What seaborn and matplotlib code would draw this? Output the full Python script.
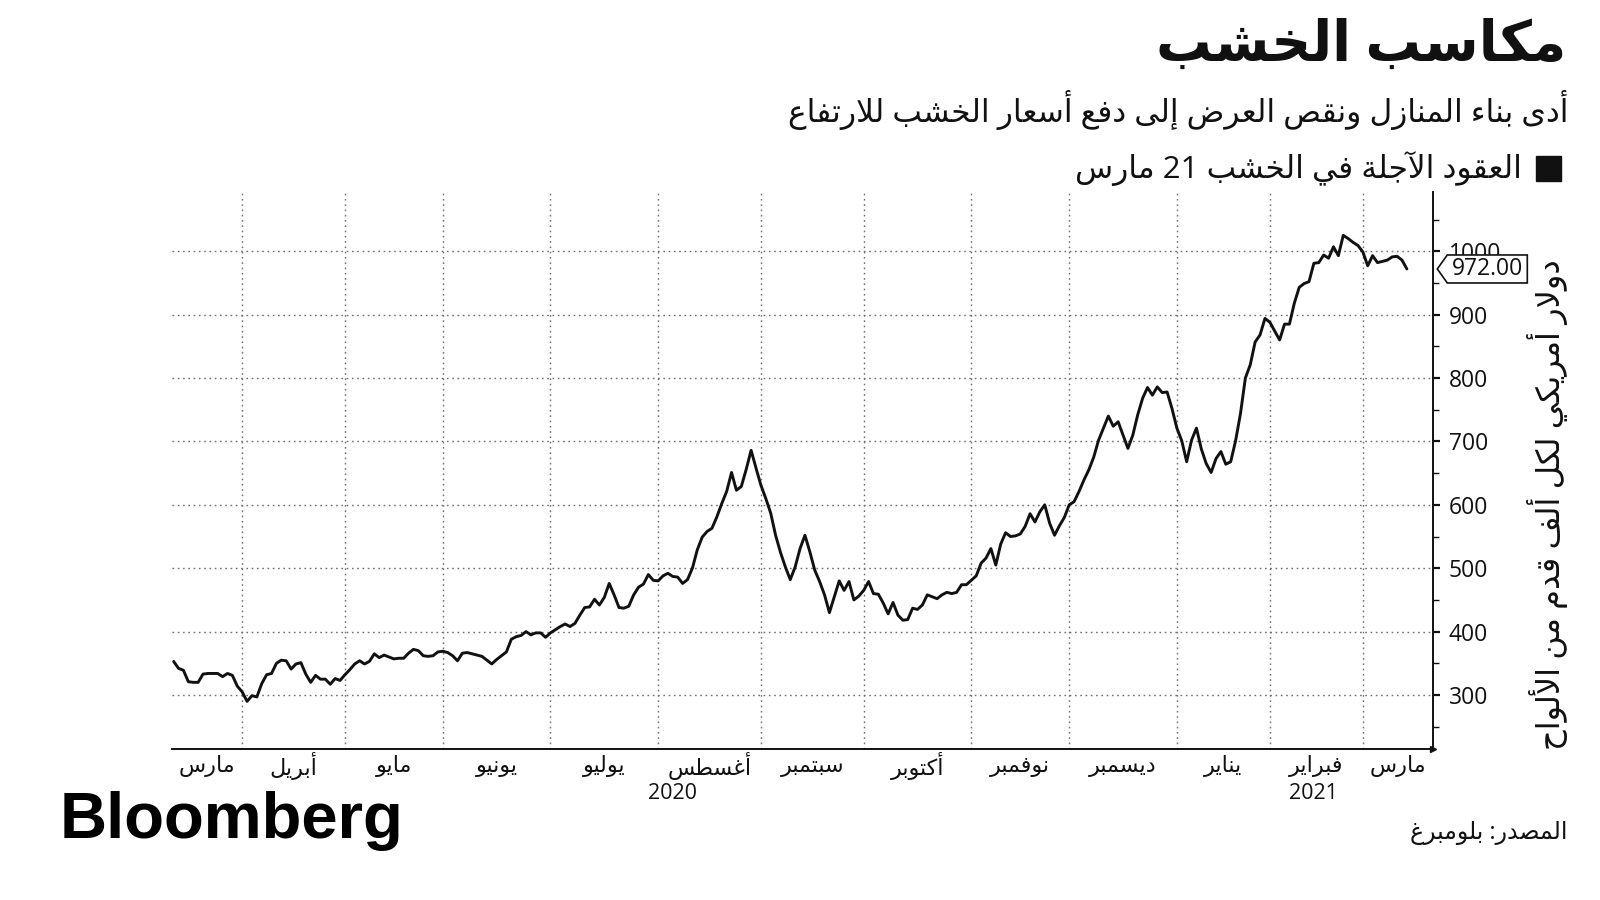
import re
import numpy as np
import pandas as pd
import matplotlib
matplotlib.use("Agg")
import matplotlib.pyplot as plt
import seaborn as sns
from matplotlib.patches import Polygon, Rectangle
from matplotlib.transforms import blended_transform_factory

# ---------------- data ----------------
start_date = "2020-03-12"
end_date = "2021-03-12"
exchange_holidays = ["2020-04-10", "2020-05-25", "2020-07-03", "2020-09-07",
                     "2020-11-26", "2020-12-25", "2021-01-01", "2021-01-18",
                     "2021-02-15"]

prices = [
    353, 342, 339, 321, 320, 320, 333, 334, 334, 334,
    329, 334, 331, 314, 305, 290, 299, 297, 318, 332,
    334, 350, 355, 354, 341, 349, 351, 333, 320, 331,
    325, 325, 317, 326, 323, 332, 340, 349, 354, 349,
    353, 365, 359, 363, 360, 357, 358, 358, 366, 372,
    370, 362, 361, 362, 368, 369, 367, 362, 354, 366,
    367, 365, 363, 361, 355, 349, 356, 362, 368, 388,
    392, 394, 400, 395, 398, 398, 391, 398, 403, 408,
    412, 408, 413, 426, 438, 439, 451, 442, 454, 476,
    458, 438, 437, 440, 458, 470, 475, 490, 481, 480,
    488, 492, 487, 486, 476, 482, 500, 529, 549, 558,
    563, 581, 602, 621, 651, 623, 629, 656, 686, 658,
    631, 610, 587, 552, 525, 502, 482, 502, 531, 552,
    526, 497, 479, 458, 430, 455, 480, 465, 479, 450,
    456, 465, 479, 460, 459, 445, 428, 446, 426, 418,
    419, 437, 435, 442, 458, 455, 452, 458, 462, 460,
    462, 474, 474, 481, 488, 508, 516, 531, 505, 538,
    556, 550, 551, 554, 566, 586, 573, 589, 600, 571,
    552, 567, 580, 600, 605, 621, 639, 655, 675, 702,
    721, 740, 724, 731, 710, 689, 710, 742, 768, 785,
    773, 786, 777, 778, 752, 721, 701, 668, 702, 721,
    688, 665, 651, 673, 684, 664, 668, 701, 744, 800,
    821, 857, 868, 894, 888, 874, 860, 885, 885, 918,
    943, 949, 952, 981, 982, 994, 989, 1007, 993, 1025,
    1020, 1014, 1009, 999, 977, 993, 982, 984, 986, 991,
    992, 986, 972]

month_labels = ["مارس", "أبريل", "مايو", "يونيو", "يوليو", "أغسطس", "سبتمبر",
                "أكتوبر", "نوفمبر", "ديسمبر", "يناير", "فبراير", "مارس"]
year_labels = ["2020", "2021"]
year_anchor_dates = ["2020-08-06", "2021-02-12"]
y_ticks = [300, 400, 500, 600, 700, 800, 900, 1000]

title = "مكاسب الخشب"
subtitle = "أدى بناء المنازل ونقص العرض إلى دفع أسعار الخشب للارتفاع"
legend_label = "العقود الآجلة في الخشب 21 مارس"
y_label = "دولار أمريكي لكل ألف قدم من الألواح"
source = "المصدر: بلومبرغ"
brand = "Bloomberg"

# ------------- Arabic shaping (presentation forms + visual order) -------------
_DUAL = {'ب': 0xFE8F, 'ت': 0xFE95, 'ث': 0xFE99, 'ج': 0xFE9D, 'ح': 0xFEA1,
         'خ': 0xFEA5, 'س': 0xFEB1, 'ش': 0xFEB5, 'ص': 0xFEB9, 'ض': 0xFEBD,
         'ط': 0xFEC1, 'ظ': 0xFEC5, 'ع': 0xFEC9, 'غ': 0xFECD, 'ف': 0xFED1,
         'ق': 0xFED5, 'ك': 0xFED9, 'ل': 0xFEDD, 'م': 0xFEE1, 'ن': 0xFEE5,
         'ه': 0xFEE9, 'ي': 0xFEF1, 'ئ': 0xFE89}
_RIGHT = {'آ': 0xFE81, 'أ': 0xFE83, 'ؤ': 0xFE85, 'إ': 0xFE87, 'ا': 0xFE8D,
          'ة': 0xFE93, 'د': 0xFEA9, 'ذ': 0xFEAB, 'ر': 0xFEAD, 'ز': 0xFEAF,
          'و': 0xFEED, 'ى': 0xFEEF}
_NONE = {'ء': 0xFE80}
_LAMALEF = {'آ': 0xFEF5, 'أ': 0xFEF7, 'إ': 0xFEF9, 'ا': 0xFEFB}


def ar(s):
    toks = []
    i = 0
    while i < len(s):
        c = s[i]
        if c == 'ل' and i + 1 < len(s) and s[i + 1] in _LAMALEF:
            toks.append(('R', _LAMALEF[s[i + 1]]))
            i += 2
            continue
        if c in _DUAL:
            toks.append(('D', _DUAL[c]))
        elif c in _RIGHT:
            toks.append(('R', _RIGHT[c]))
        elif c in _NONE:
            toks.append(('N', _NONE[c]))
        else:
            toks.append(('X', c))
        i += 1
    out = []
    for j, (k, b) in enumerate(toks):
        if k == 'X':
            out.append(b)
            continue
        prev_j = k != 'N' and j > 0 and toks[j - 1][0] == 'D'
        next_j = k == 'D' and j + 1 < len(toks) and toks[j + 1][0] in 'DR'
        off = 3 if (prev_j and next_j) else 1 if prev_j else 2 if next_j else 0
        out.append(chr(b + off))
    vis = ''.join(reversed(out))
    vis = re.sub(r'[0-9][0-9.,]*', lambda m: m.group(0)[::-1], vis)
    return vis


# ---------------- figure ----------------
sns.set_style("white")
plt.rcParams['font.family'] = ['Open Sans', 'DejaVu Sans']

W, H = 1600, 900
fig = plt.figure(figsize=(16, 9), dpi=100)
ax_l, ax_r, ax_t, ax_b = 171.7, 1433.3, 192.0, 749.3
ax = fig.add_axes([ax_l / W, 1 - ax_b / H, (ax_r - ax_l) / W, (ax_b - ax_t) / H])

dates = pd.bdate_range(start_date, end_date, freq='C', holidays=exchange_holidays)
session = np.arange(len(dates))
df = pd.DataFrame({"session": session, "price": prices})

sns.lineplot(data=df, x="session", y="price", color="#111111", linewidth=2.1,
             ax=ax, zorder=5)

xmin, xmax = -0.4, session[-1] + 5.4
ax.set_xlim(xmin, xmax)
ax.set_ylim(214.4, 1093.4)

# month boundaries (first trading session of each month)
per = dates.to_period('M')
month_starts = [int(i) for i in session[1:] if per[i] != per[i - 1]]
bounds = [xmin] + month_starts + [xmax]

grid_kw = dict(color="#6f6f6f", linewidth=1.0, linestyle=(0, (1.2, 2.6)), zorder=1)
for v in y_ticks:
    ax.axhline(v, **grid_kw)
for m in month_starts:
    ax.axvline(m, **grid_kw)

for s in ["left", "top"]:
    ax.spines[s].set_visible(False)
for s in ["right", "bottom"]:
    ax.spines[s].set_color("#111111")
    ax.spines[s].set_linewidth(1.4)

# small arrow head at the end of the time axis
ax.plot([1.0], [0.0], marker='>', markersize=5, color="#111111",
        transform=ax.transAxes, clip_on=False, zorder=6)

ax.set_xlabel("")
ax.set_ylabel("")
ax.set_xticks([])
ax.yaxis.tick_right()
ax.set_yticks(y_ticks)
ax.set_yticklabels([str(v) for v in y_ticks])
ax.set_yticks([v + 50 for v in [200] + y_ticks], minor=True)
ax.tick_params(axis='y', which='major', length=5, width=1.6, pad=6,
               labelsize=16.5, colors="#111111", direction='out')
ax.tick_params(axis='y', which='minor', length=4, width=1.0, direction='out',
               colors="#111111")

# month labels centred in each month span
trans = blended_transform_factory(ax.transData, ax.transAxes)
ah = ax_b - ax_t
for lab, a, b in zip(month_labels, bounds[:-1], bounds[1:]):
    ax.text((a + b) / 2, -17 / ah, ar(lab), transform=trans,
            ha='center', va='center', fontsize=16, color="#111111")
for lab, d in zip(year_labels, year_anchor_dates):
    xpos = int(np.searchsorted(dates, pd.Timestamp(d)))
    ax.text(xpos, -44 / ah, lab, transform=trans, ha='center',
            va='center', fontsize=15.5, color="#111111")

# last value tag
fig.canvas.draw()
last = prices[-1]
y_disp = ax.transData.transform((0, last))[1]
x0 = ax_r + 4
hh, tip, wbox = 14, 10, 90
pts = [(x0, y_disp), (x0 + tip, y_disp + hh), (x0 + wbox, y_disp + hh),
       (x0 + wbox, y_disp - hh), (x0 + tip, y_disp - hh)]
pts = [(px / W, py / H) for px, py in pts]
fig.patches.append(Polygon(pts, closed=True, transform=fig.transFigure,
                           facecolor='white', edgecolor='#111111', lw=1.2,
                           zorder=10))
fig.text((x0 + tip / 2 + wbox / 2) / W, y_disp / H, f"{last:.2f}", ha='center',
         va='center', fontsize=16.5, color="#111111", zorder=11)

# titles
fig.text(1566 / W, 1 - 46 / H, ar(title), ha='right', va='center',
         fontsize=40, fontweight='bold', color="#111111")
fig.text(1568 / W, 1 - 110 / H, ar(subtitle), ha='right', va='center',
         fontsize=22.5, color="#111111")
fig.patches.append(Rectangle((1536 / W, 1 - 181 / H), 25 / W, 25 / H,
                             transform=fig.transFigure, color="#111111"))
fig.text(1522 / W, 1 - 168 / H, ar(legend_label), ha='right', va='center',
         fontsize=22.5, color="#111111")
fig.text(1548 / W, 1 - 505 / H, ar(y_label), rotation=90, ha='center',
         va='center', fontsize=23, color="#111111")

# footer
fig.text(60 / W, 1 - 821 / H, brand, ha='left', va='center', fontsize=47,
         fontweight='bold', family='Liberation Sans', color="#000000")
fig.text(1568 / W, 1 - 833 / H, ar(source), ha='right', va='center',
         fontsize=17, color="#111111")

fig.savefig("out.png", dpi=100, facecolor="white")
